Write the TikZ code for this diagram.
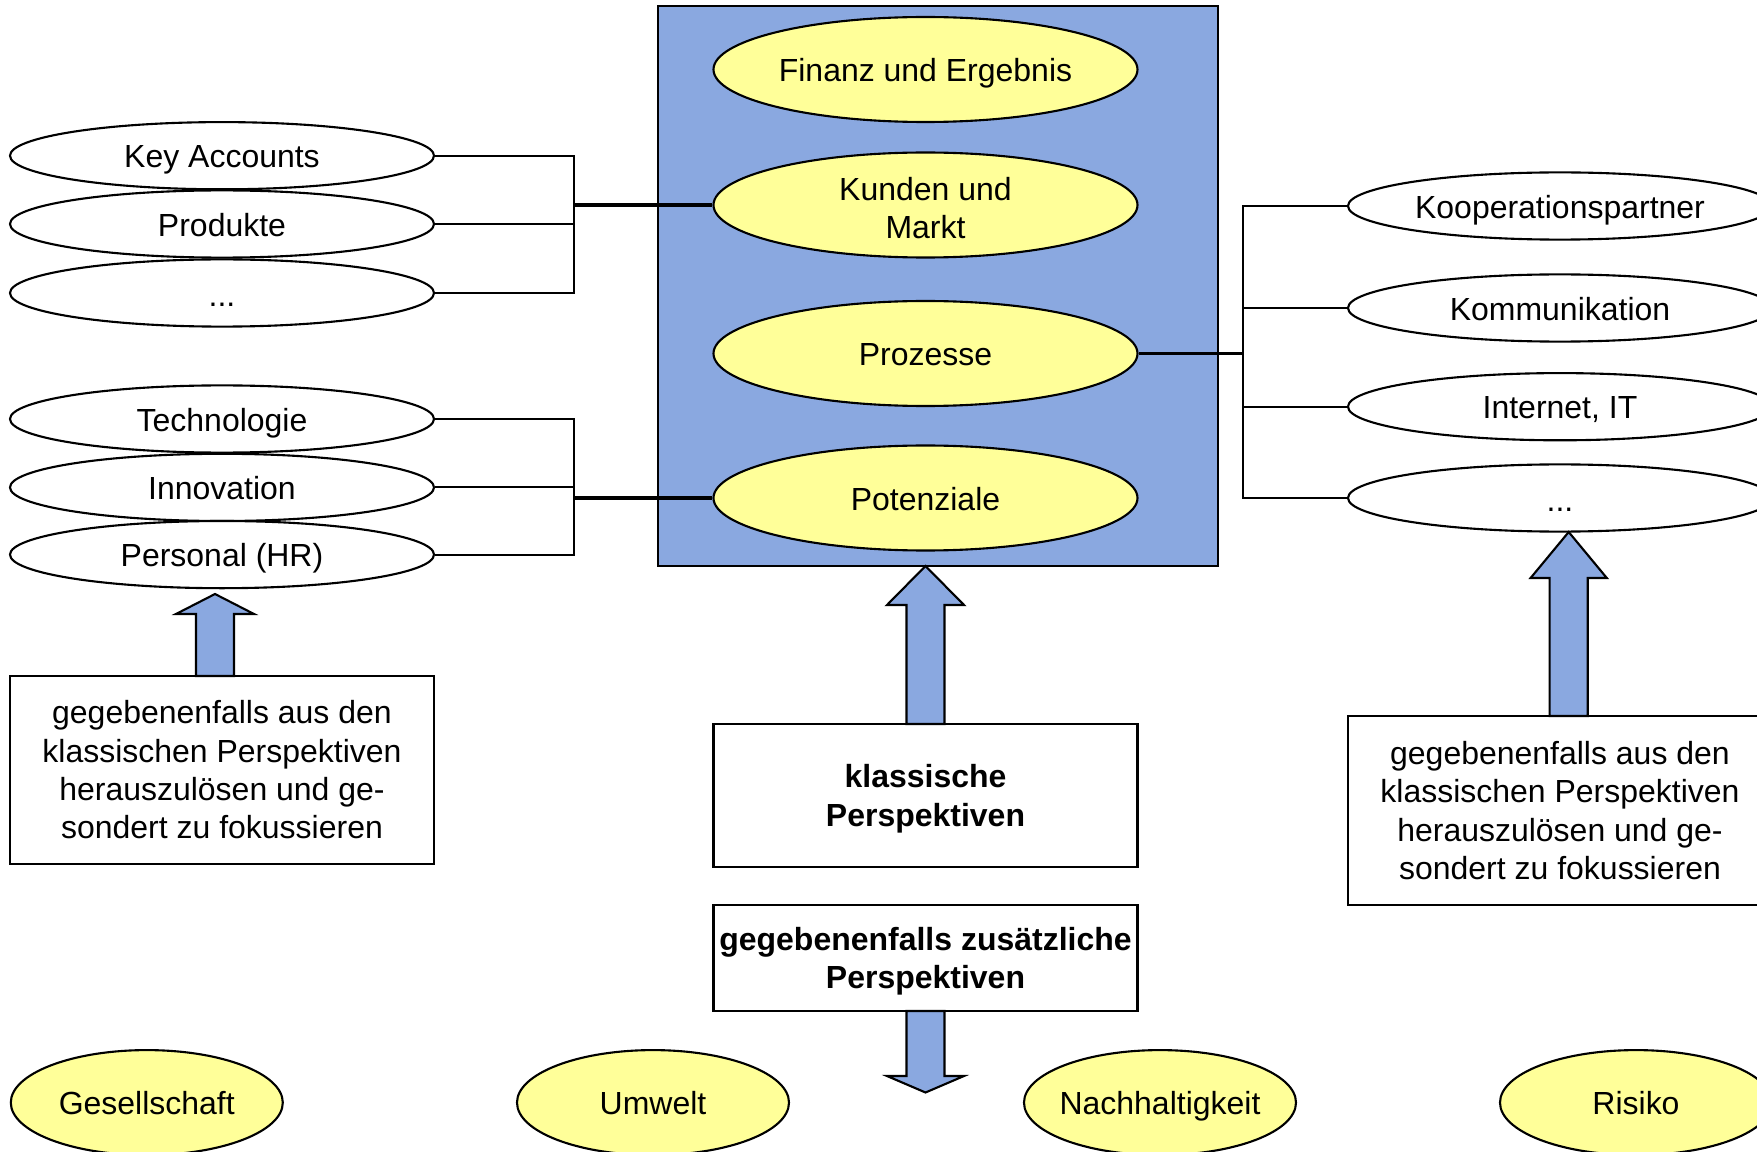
\documentclass[tikz,border=0pt]{standalone}
\usepackage{fontspec}
\setmainfont{Liberation Sans}
\usetikzlibrary{shapes.geometric}
\definecolor{panelblue}{RGB}{138,168,224}
\definecolor{softyellow}{RGB}{255,255,153}
\begin{document}
\begin{tikzpicture}[
  every node/.style={font=\fontsize{9.1pt}{10.9pt}\selectfont, inner sep=0pt, align=center},
  oneline/.style={text height=7pt, text depth=0pt},
  dots/.style={text height=7.6pt, text depth=0pt},
  persp/.style={ellipse, draw, line width=0.6pt, fill=softyellow, minimum width=4.24cm, minimum height=1.05cm},
  item/.style={ellipse, draw, line width=0.6pt, fill=white, minimum width=4.24cm, minimum height=0.672cm},
  extra/.style={ellipse, draw, line width=0.6pt, fill=softyellow, minimum width=2.72cm, minimum height=1.05cm, inner xsep=-0.5cm, oneline},
  textbox/.style={rectangle, draw, line width=0.6pt, fill=white, minimum width=4.24cm},
  link/.style={line width=0.6pt},
  mainlink/.style={line width=1.1pt},
  blockarrow/.style={draw, line width=0.6pt, fill=panelblue, line join=miter},
]
\useasboundingbox (0,0) rectangle (17.57,-11.52);
\clip (0,0) rectangle (17.57,-11.52);

% central panel with the classic perspectives
\node[draw, line width=0.6pt, fill=panelblue, minimum width=5.6cm, minimum height=5.6cm] (frame) at (9.38,-2.86) {};
\node[persp, oneline] (fin) at (9.255,-0.695) {Finanz und Ergebnis};
\node[persp, text height=19.1pt, text depth=0pt] (kun) at (9.255,-2.05) {Kunden und\\Markt};
\node[persp, oneline] (pro) at (9.255,-3.535) {Prozesse};
\node[persp, oneline] (pot) at (9.255,-4.98) {Potenziale};

% left column
\node[item, oneline] (ka)  at (2.22,-1.557) {Key Accounts};
\node[item, oneline] (prd) at (2.22,-2.24) {Produkte};
\node[item, dots]    (ld)  at (2.22,-2.93) {...};
\node[item, oneline] (tec) at (2.22,-4.19) {Technologie};
\node[item, oneline] (inn) at (2.22,-4.874) {Innovation};
\node[item, oneline] (per) at (2.22,-5.546) {Personal (HR)};

% right column
\node[item, oneline] (koo) at (15.6,-2.06) {Kooperationspartner};
\node[item, oneline] (kom) at (15.6,-3.08) {Kommunikation};
\node[item, oneline] (int) at (15.6,-4.067) {Internet, IT};
\node[item, dots]    (rd)  at (15.6,-4.98) {...};

% explanation boxes
\node[textbox, minimum height=1.88cm] (lbox) at (2.22,-7.70)
  {gegebenenfalls aus den\\klassischen Perspektiven\\herauszulösen und ge-\\sondert zu fokussieren};
\node[textbox, minimum height=1.89cm] (rbox) at (15.6,-8.105)
  {gegebenenfalls aus den\\klassischen Perspektiven\\herauszulösen und ge-\\sondert zu fokussieren};
\node[textbox, minimum height=1.43cm, text depth=0pt] (kla) at (9.255,-7.955) {\textbf{klassische}\\\textbf{Perspektiven}};
\node[textbox, minimum height=1.06cm, text depth=0pt] (zus) at (9.255,-9.58) {\textbf{gegebenenfalls zusätzliche}\\\textbf{Perspektiven}};

% additional perspectives
\node[extra] (ges) at (1.468,-11.026) {Gesellschaft};
\node[extra] (umw) at (6.53,-11.026) {Umwelt};
\node[extra] (nac) at (11.60,-11.026) {Nachhaltigkeit};
\node[extra] (ris) at (16.36,-11.026) {Risiko};

% bracket connectors
\coordinate (jl1) at (5.737,-2.05);
\coordinate (jl2) at (5.737,-4.98);
\coordinate (jr)  at (12.426,-3.535);
\draw[link] (ka.east) -| (jl1) |- (ld.east);
\draw[link] (prd.east) -- (prd.east -| jl1);
\draw[mainlink] (jl1) -- (kun.west);
\draw[link] (tec.east) -| (jl2) |- (per.east);
\draw[link] (inn.east) -- (inn.east -| jl2);
\draw[mainlink] (jl2) -- (pot.west);
\draw[link] (koo.west) -| (jr) |- (rd.west);
\draw[link] (kom.west) -- (kom.west -| jr);
\draw[link] (int.west) -- (int.west -| jr);
\draw[mainlink] (pro.east) -- (jr);

% block arrows
\draw[blockarrow] (2.15,-5.94) -- (2.54,-6.14) -- (2.34,-6.14) -- (2.34,-6.76)
  -- (1.96,-6.76) -- (1.96,-6.14) -- (1.76,-6.14) -- cycle;
\draw[blockarrow] (9.255,-5.66) -- (9.64,-6.05) -- (9.445,-6.05) -- (9.445,-7.24)
  -- (9.065,-7.24) -- (9.065,-6.05) -- (8.87,-6.05) -- cycle;
\draw[blockarrow] (9.255,-10.925) -- (9.64,-10.76) -- (9.445,-10.76) -- (9.445,-10.11)
  -- (9.065,-10.11) -- (9.065,-10.76) -- (8.87,-10.76) -- cycle;
\draw[blockarrow] (15.687,-5.32) -- (16.068,-5.78) -- (15.877,-5.78) -- (15.877,-7.16)
  -- (15.496,-7.16) -- (15.496,-5.78) -- (15.306,-5.78) -- cycle;
\end{tikzpicture}
\end{document}
